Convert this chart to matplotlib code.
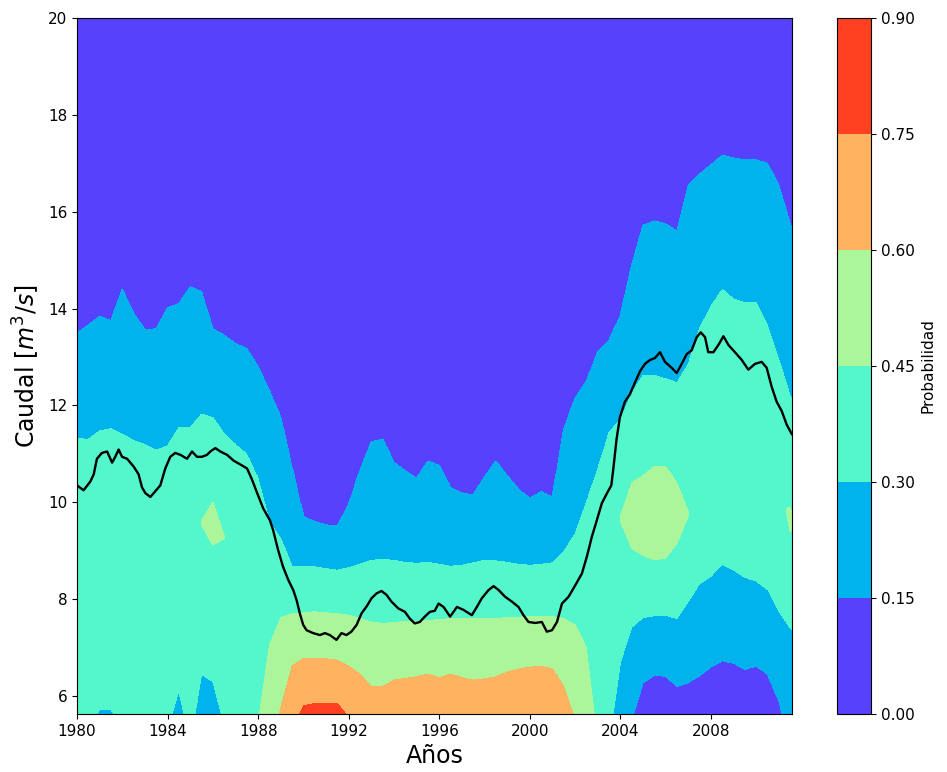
import numpy as np
import matplotlib
matplotlib.use("Agg")
import matplotlib.pyplot as plt

nan = np.nan

# Column positions (years) of the probability field
years = [1980.0 + 0.5 * k for k in range(65)]

# Upper crossings (going down from the top) of each probability level
u15 = [13.49, 13.66, 13.84, 13.75, 14.4, 13.9, 13.56, 13.58, 14.02, 14.1,
       14.45, 14.35, 13.58, 13.45, 13.28, 13.17, 12.8, 12.3, 11.75, 10.7,
       9.7, 9.6, 9.53, 9.5, 9.95, 10.65, 11.25, 11.3, 10.82, 10.65,
       10.49, 10.85, 10.76, 10.3, 10.19, 10.15, 10.52, 10.85, 10.55, 10.27,
       10.08, 10.22, 10.1, 11.5, 12.15, 12.5, 13.1, 13.35, 13.85, 14.9,
       15.72, 15.81, 15.75, 15.6, 16.55, 16.78, 16.97, 17.17, 17.11, 17.07,
       17.07, 17.0, 16.55, 15.75, 15.3]
u30 = [11.33, 11.3, 11.48, 11.52, 11.41, 11.28, 11.2, 11.08, 11.17, 11.55,
       11.55, 11.82, 11.75, 11.42, 11.2, 11.0, 10.5, 9.6, 9.25, 8.68,
       8.67, 8.67, 8.63, 8.6, 8.65, 8.72, 8.8, 8.82, 8.8, 8.76,
       8.74, 8.76, 8.72, 8.68, 8.7, 8.75, 8.8, 8.79, 8.76, 8.72,
       8.7, 8.72, 8.75, 8.98, 9.35, 10.0, 10.7, 11.45, 11.7, 12.25,
       12.62, 12.62, 12.55, 12.47, 12.85, 13.6, 14.05, 14.4, 14.2, 14.12,
       14.12, 13.65, 12.95, 12.2, 11.8]
u45 = [nan, nan, nan, nan, nan, nan, nan, nan, nan, nan,
       nan, 9.62, 10.0, 9.3, nan, nan, 5.4, 7.05, 7.62, 7.7,
       7.72, 7.74, 7.72, 7.7, 7.67, 7.6, 7.53, 7.5, 7.52, 7.54,
       7.54, 7.56, 7.58, 7.6, 7.6, 7.6, 7.6, 7.6, 7.62, 7.63,
       7.64, 7.64, 7.64, 7.6, 7.47, 7.0, 5.0, nan, 9.7, 10.4,
       10.55, 10.74, 10.74, 10.4, 9.8, nan, nan, nan, nan, nan,
       nan, nan, nan, 9.9, nan]
u60 = [nan, nan, nan, nan, nan, nan, nan, nan, nan, nan,
       nan, nan, nan, nan, nan, nan, nan, 4.8, 5.75, 6.62,
       6.78, 6.78, 6.77, 6.74, 6.62, 6.45, 6.2, 6.2, 6.33, 6.37,
       6.4, 6.46, 6.38, 6.46, 6.38, 6.33, 6.36, 6.4, 6.5, 6.56,
       6.6, 6.61, 6.57, 6.2, 5.51, nan, nan, nan, nan, nan,
       nan, nan, nan, nan, nan, nan, nan, nan, nan, nan,
       nan, nan, nan, nan, nan]
u75 = [nan] * 19 + [5.3, 5.8, 5.85, 5.86, 5.86, 5.55] + [nan] * 40

# Lower crossings (going further down, probability decreasing again)
d45 = [nan, nan, nan, nan, nan, nan, nan, nan, nan, nan,
       nan, 9.55, 9.12, 9.26, nan, nan, nan, nan, nan, nan,
       nan, nan, nan, nan, nan, nan, nan, nan, nan, nan,
       nan, nan, nan, nan, nan, nan, nan, nan, nan, nan,
       nan, nan, nan, nan, nan, nan, nan, nan, 9.62, 9.05,
       8.9, 8.81, 8.85, 9.15, 9.72, nan, nan, nan, nan, nan,
       nan, nan, nan, 9.4, nan]
d30 = [nan, 5.3, 5.72, 5.72, 5.3, nan, nan, nan, 5.3, 6.1,
       5.0, 6.45, 6.3, 5.4, nan, nan, nan, nan, nan, nan,
       nan, nan, nan, nan, nan, nan, nan, nan, nan, nan,
       nan, nan, nan, nan, nan, nan, nan, nan, nan, nan,
       nan, nan, nan, nan, nan, nan, nan, 5.0, 6.7, 7.42,
       7.62, 7.66, 7.67, 7.6, 7.95, 8.32, 8.47, 8.72, 8.6, 8.45,
       8.37, 8.2, 7.75, 7.4, 7.2]
d15 = ([nan] * 49 + [5.5, 6.28, 6.43, 6.41, 6.2, 6.28, 6.42, 6.6, 6.73, 6.68, 6.55,
                     6.62, 6.45, 5.9, 4.9, nan])

# Black line: flow series
line_years = [1980.0, 1980.29, 1980.59, 1980.74, 1980.88, 1981.1, 1981.33, 1981.55, 1981.69,
              1981.84, 1981.99, 1982.21, 1982.5, 1982.72, 1982.87, 1983.02, 1983.24, 1983.46,
              1983.68, 1983.9, 1984.12, 1984.34, 1984.57, 1984.86, 1985.08, 1985.3, 1985.52,
              1985.74, 1985.89, 1986.11, 1986.33, 1986.63, 1986.92, 1987.22, 1987.51, 1987.73,
              1987.95, 1988.22, 1988.52, 1988.66, 1988.88, 1989.1, 1989.33, 1989.55, 1989.7,
              1989.84, 1989.99, 1990.14, 1990.43, 1990.73, 1990.95, 1991.17, 1991.46, 1991.68,
              1991.9, 1992.12, 1992.35, 1992.57, 1992.79, 1993.01, 1993.23, 1993.45, 1993.67,
              1993.89, 1994.19, 1994.48, 1994.7, 1994.92, 1995.14, 1995.36, 1995.59, 1995.8,
              1995.97, 1996.19, 1996.48, 1996.78, 1997.07, 1997.44, 1997.66, 1997.88, 1998.18,
              1998.4, 1998.62, 1998.91, 1999.21, 1999.5, 1999.72, 1999.94, 2000.24, 2000.53,
              2000.75, 2000.98, 2001.2, 2001.42, 2001.71, 2002.01, 2002.3, 2002.52, 2002.74,
              2002.96, 2003.18, 2003.41, 2003.6, 2003.69, 2003.83, 2003.98, 2004.2, 2004.42,
              2004.64, 2004.87, 2005.09, 2005.31, 2005.53, 2005.75, 2005.97, 2006.26, 2006.49,
              2006.71, 2006.93, 2007.15, 2007.37, 2007.55, 2007.74, 2007.88, 2008.11, 2008.33,
              2008.55, 2008.77, 2009.06, 2009.36, 2009.65, 2009.95, 2010.24, 2010.46, 2010.68,
              2010.9, 2011.13, 2011.35, 2011.57]
line_flow = [10.35, 10.25, 10.43, 10.58, 10.9, 11.02, 11.05, 10.82, 10.94,
             11.09, 10.94, 10.9, 10.74, 10.58, 10.31, 10.19, 10.11, 10.23,
             10.35, 10.7, 10.94, 11.02, 10.98, 10.9, 11.05, 10.94, 10.94,
             10.98, 11.05, 11.12, 11.05, 10.98, 10.86, 10.78, 10.7, 10.47,
             10.2, 9.88, 9.63, 9.43, 9.02, 8.67, 8.4, 8.19, 7.98,
             7.71, 7.47, 7.36, 7.3, 7.26, 7.3, 7.26, 7.16, 7.3,
             7.26, 7.33, 7.47, 7.71, 7.85, 8.02, 8.12, 8.17, 8.09,
             7.95, 7.81, 7.74, 7.6, 7.5, 7.53, 7.64, 7.74, 7.76,
             7.91, 7.84, 7.64, 7.84, 7.78, 7.67, 7.84, 8.02, 8.19,
             8.27, 8.19, 8.05, 7.95, 7.84, 7.67, 7.53, 7.51, 7.53,
             7.33, 7.36, 7.53, 7.91, 8.05, 8.29, 8.53, 8.88, 9.29,
             9.63, 9.98, 10.19, 10.35, 10.7, 11.3, 11.76, 12.08, 12.23,
             12.47, 12.71, 12.86, 12.94, 12.98, 13.1, 12.9, 12.78, 12.67,
             12.86, 13.06, 13.14, 13.41, 13.51, 13.41, 13.1, 13.1, 13.25,
             13.43, 13.25, 13.1, 12.94, 12.74, 12.86, 12.9, 12.78, 12.39,
             12.08, 11.88, 11.6, 11.41]

levels = [0.0, 0.15, 0.30, 0.45, 0.60, 0.75, 0.90]
cbar_ticks = levels

# ---- build the probability table from the read crossings ----
y_top, y_bot = 20.5, 4.5
ygrid = np.linspace(y_bot, y_top, 961)
crossing_sets = [("u15", u15, 0.15), ("u30", u30, 0.30), ("u45", u45, 0.45),
                 ("u60", u60, 0.60), ("u75", u75, 0.75),
                 ("d45", d45, 0.45), ("d30", d30, 0.30), ("d15", d15, 0.15)]


def crossings(i):
    return {name: arr[i] for name, arr, lev in crossing_sets if not np.isnan(arr[i])}


def profile(i):
    ups = [(arr[i], lev) for name, arr, lev in crossing_sets[:5] if not np.isnan(arr[i])]
    downs = [(arr[i], lev) for name, arr, lev in crossing_sets[5:] if not np.isnan(arr[i])]
    pts = [(y_top, 0.02)] + ups
    lmax = ups[-1][1]
    if downs:
        gap = ups[-1][0] - downs[0][0]
        pts.append(((ups[-1][0] + downs[0][0]) / 2.0, lmax + 0.07 * min(1.0, gap / 0.8)))
        pts += downs
        pts.append((y_bot, downs[-1][1] - 0.07))
    else:
        pts.append((y_bot, lmax + 0.07))
    ys = np.array([p[0] for p in pts])[::-1]
    ps = np.array([p[1] for p in pts])[::-1]
    return ys, ps


profiles = [profile(i) for i in range(len(years))]
cross = [crossings(i) for i in range(len(years))]


def warped(i, common, target):
    src = [cross[i][k] for k in common]
    order = np.argsort(target)
    tgt_s = np.concatenate([[y_bot], np.array(target)[order], [y_top]])
    src_s = np.concatenate([[y_bot], np.array(src)[order], [y_top]])
    ysrc = np.interp(ygrid, tgt_s, src_s)
    ys, ps = profiles[i]
    return np.interp(ysrc, ys, ps)


xs, cols = [], []
nsub = 10
for j in range(len(years) - 1):
    common = [k for k in cross[j] if k in cross[j + 1]]
    for s in range(nsub):
        f = s / nsub
        target = [(1 - f) * cross[j][k] + f * cross[j + 1][k] for k in common]
        col = (1 - f) * warped(j, common, target) + f * warped(j + 1, common, target)
        xs.append(years[j] + f * (years[j + 1] - years[j]))
        cols.append(col)
xs.append(years[-1])
cols.append(np.interp(ygrid, *profiles[-1]))
Z = np.column_stack(cols)

fig = plt.figure(figsize=(9.47, 7.72), dpi=100)
ax = fig.add_axes([77 / 947, 58 / 772, 715 / 947, 696 / 772])
cax = fig.add_axes([837 / 947, 58 / 772, 34 / 947, 696 / 772])

cs = ax.contourf(xs, ygrid, Z, levels=levels, cmap="rainbow", vmin=0.0, vmax=0.9)
ax.plot(line_years, line_flow, color="black", lw=1.7)

ax.set_xlim(1980, 2011.58)
ax.set_ylim(5.63, 20)
ax.set_xticks([1980, 1984, 1988, 1992, 1996, 2000, 2004, 2008])
ax.set_xticklabels(["1980", "1984", "1988", "1992", "1996", "2000", "2004", "2008"])
ax.set_yticks([6, 8, 10, 12, 14, 16, 18, 20])
ax.tick_params(labelsize=11)
ax.set_xlabel("Años", fontsize=17)
ax.set_ylabel("Caudal [$m^3/s$]", fontsize=17)

cb = fig.colorbar(cs, cax=cax, ticks=cbar_ticks)
cb.ax.set_yticklabels(["%.2f" % t for t in cbar_ticks])
cb.ax.tick_params(labelsize=11)
cb.set_label("Probabilidad", fontsize=11)

fig.savefig("out.png", dpi=100)
